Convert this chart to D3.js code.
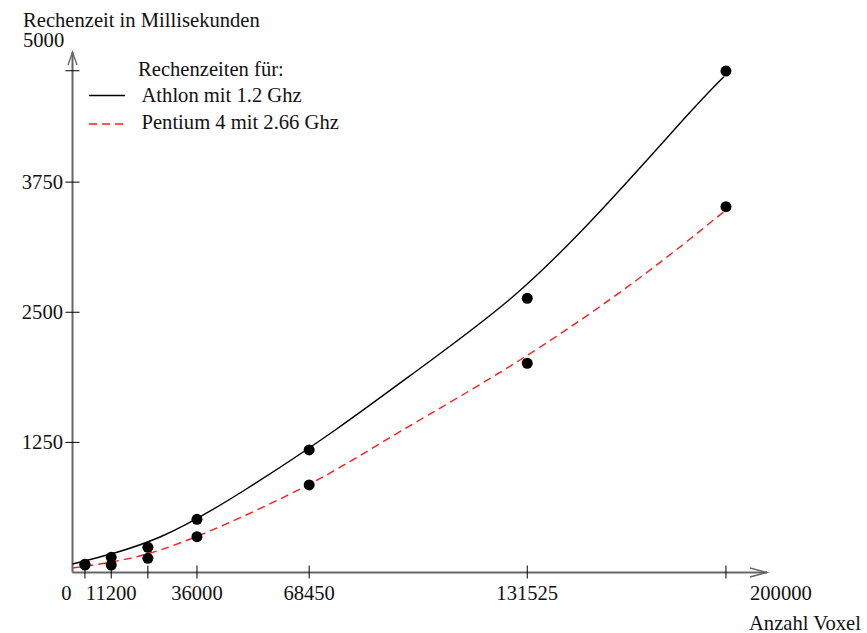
<html>
<head>
    <meta charset="UTF-8" />
    <script src="https://d3js.org/d3.v7.min.js"></script>
    <style>
        body { margin: 0; background: white; }
        text { font-family: "Liberation Serif", "Times New Roman", serif; font-size: 20.6px; fill: #111; }
        .axis { stroke: #666; stroke-width: 2px; fill: none; }
        .tick { stroke: black; stroke-width: 1px; }
        .athlon { stroke: black; stroke-width: 1.4px; fill: none; }
        .pentium { stroke: #ff1a1a; stroke-width: 1.4px; fill: none; stroke-dasharray: 8,5; }
    </style>
</head>
<body>
<svg id="chart" width="867" height="633"></svg>
<script>
    // measured values (Anzahl Voxel / Rechenzeit in ms)
    const voxels = [3600, 11200, 21800, 36000, 68450, 131525, 189000];
    const athlonTimes = [80, 146, 242, 511, 1177, 2634, 4817];
    const pentiumTimes = [72, 72, 136, 344, 841, 2010, 3514];

    // fitted curves, points
    const athlonFitX = [0, 25300, 50750, 76200, 101650, 127100, 152550, 178000, 188400];
    const athlonFitY = [82, 341, 812, 1374, 1989, 2642, 3468, 4399, 4763];
    const pentiumFitX = [0, 16600, 36900, 68100, 94700, 129400, 163200, 188400];
    const pentiumFitY = [43, 136, 360, 841, 1353, 2041, 2810, 3466];

    const xLabels = [0, 11200, 36000, 68450, 131525, 200000];
    const yLabels = [1250, 2500, 3750];
    const yMarks = [1250, 2500, 3750, 4820];

    const svg = d3.select("#chart");
    const x = d3.scaleLinear().domain([0, 200000]).range([72.5, 764]);
    const y = d3.scaleLinear().domain([0, 5000]).range([572.5, 52]);

    // axes with open arrow heads
    svg.append("line").attr("class", "axis")
        .attr("x1", x(0)).attr("y1", y(0)).attr("x2", x(0)).attr("y2", y(5000));
    svg.append("path").attr("class", "axis").style("stroke-width", "1.3px")
        .attr("d", `M${x(0) - 4.5},${y(5000) + 13} L${x(0)},${y(5000)} L${x(0) + 4.5},${y(5000) + 13}`);
    svg.append("line").attr("class", "axis")
        .attr("x1", x(0)).attr("y1", y(0)).attr("x2", x(200000) + 3).attr("y2", y(0));
    svg.append("path").attr("class", "axis").style("stroke-width", "1.3px")
        .attr("d", `M${x(200000) - 14},${y(0) - 4.5} L${x(200000) + 3},${y(0)} L${x(200000) - 14},${y(0) + 4.5}`);

    // tick marks
    svg.selectAll("line.xt").data(voxels).join("line")
        .attr("class", "tick xt")
        .attr("x1", d => x(d)).attr("x2", d => x(d))
        .attr("y1", y(0) - 7).attr("y2", y(0) + 6);
    svg.selectAll("line.yt").data(yMarks).join("line")
        .attr("class", "tick yt")
        .attr("x1", x(0) - 7).attr("x2", x(0) + 7)
        .attr("y1", d => y(d)).attr("y2", d => y(d));

    // tick labels
    svg.selectAll("text.xl").data(xLabels).join("text")
        .attr("class", "xl")
        .attr("x", (d, i) => i == 0 ? x(d) - 6 : (i == xLabels.length - 1 ? x(d) - 14 : x(d)))
        .attr("y", 600)
        .attr("text-anchor", (d, i) => i == xLabels.length - 1 ? "start" : "middle")
        .text(d => d);
    svg.selectAll("text.yl").data(yLabels).join("text")
        .attr("class", "yl")
        .attr("x", 63)
        .attr("y", d => y(d) + 7)
        .attr("text-anchor", "end")
        .text(d => d);
    svg.append("text").attr("x", 23).attr("y", 46.5).text("5000");
    svg.append("text").attr("x", 23).attr("y", 26.5).text("Rechenzeit in Millisekunden");
    svg.append("text").attr("x", 749).attr("y", 629.5).text("Anzahl Voxel");

    // curves
    const line = d3.line()
        .x(d => x(d[0])).y(d => y(d[1]))
        .curve(d3.curveNatural);
    svg.append("path").attr("class", "athlon")
        .attr("d", line(d3.zip(athlonFitX, athlonFitY)));
    svg.append("path").attr("class", "pentium")
        .attr("d", line(d3.zip(pentiumFitX, pentiumFitY)));

    // points
    svg.selectAll("circle.a").data(d3.zip(voxels, athlonTimes)).join("circle")
        .attr("class", "a")
        .attr("cx", d => x(d[0])).attr("cy", d => y(d[1])).attr("r", 5.5)
        .style("fill", "black");
    svg.selectAll("circle.p").data(d3.zip(voxels, pentiumTimes)).join("circle")
        .attr("class", "p")
        .attr("cx", d => x(d[0])).attr("cy", d => y(d[1])).attr("r", 5.5)
        .style("fill", "black");

    // legend
    const legend = svg.append("g");
    legend.append("text").attr("x", 138).attr("y", 76).text("Rechenzeiten für:");
    legend.append("line").attr("class", "athlon")
        .attr("x1", 89).attr("x2", 125).attr("y1", 95.5).attr("y2", 95.5);
    legend.append("text").attr("x", 141.5).attr("y", 101.5).text("Athlon mit 1.2 Ghz");
    legend.append("line").attr("class", "pentium")
        .attr("x1", 89).attr("x2", 125).attr("y1", 124).attr("y2", 124);
    legend.append("text").attr("x", 141.5).attr("y", 129).text("Pentium 4 mit 2.66 Ghz");
</script>
</body>
</html>
